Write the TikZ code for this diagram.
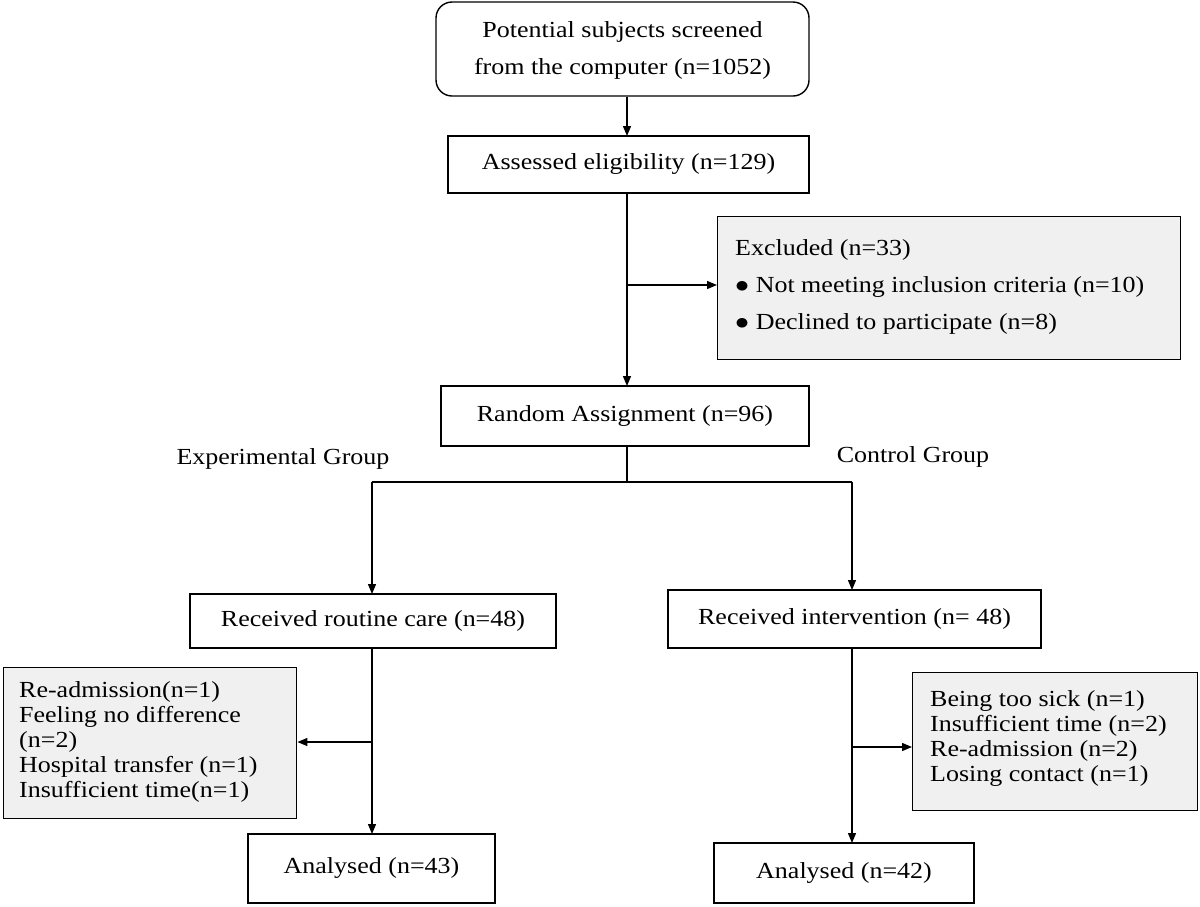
\documentclass[tikz,border=0pt]{standalone}
\usepackage{fontspec}
\setmainfont{Liberation Serif}
\usetikzlibrary{arrows.meta}
\newcommand{\sx}[2][25]{\scalebox{1.13}[1]{\fontsize{23}{#1}\selectfont\begin{tabular}{@{}l@{}}#2\end{tabular}}}
\begin{document}
\begin{tikzpicture}[x=1pt,y=-1pt,
  every node/.style={inner sep=0pt},
  box/.style={draw,line width=1.4pt,align=center},
  gbox/.style={draw,line width=1.4pt,fill=gray!12,anchor=north west},
  arr/.style={-{Triangle[length=10pt,width=8pt]},line width=1.3pt}]
\useasboundingbox (0,0) rectangle (1200,906);
\node[box,rounded corners=16pt,minimum width=373,minimum height=94] (top) at (622.5,49) {\sx[37]{\hfill Potential subjects screened\hfill\null\\from the computer (n=1052)}};
\node[box,minimum width=361,minimum height=57] (ass) at (628.5,164.5) {\sx{Assessed eligibility (n=129)}};
\node[gbox,minimum width=463,minimum height=143] (exc) at (717,216) {};
\node[anchor=west] (exct) at (735,285) {\sx[37]{Excluded (n=33)\\$\bullet$ Not meeting inclusion criteria (n=10)\\$\bullet$ Declined to participate (n=8)}};
\node[box,minimum width=368,minimum height=60] (ran) at (625,416) {\sx{Random Assignment (n=96)}};
\node (eg) at (283,459) {\sx{Experimental Group}};
\node (cg) at (913,457) {\sx{Control Group}};
\node[box,minimum width=366,minimum height=54] (rc) at (373,621) {\sx{Received routine care (n=48)}};
\node[box,minimum width=373,minimum height=58] (ri) at (854.5,619) {\sx{Received intervention (n= 48)}};
\node[gbox,minimum width=293,minimum height=151] (lg) at (3,667) {};
\node[anchor=west] (lgt) at (19,742) {\sx{Re-admission(n=1)\\Feeling no difference\\(n=2)\\Hospital transfer (n=1)\\Insufficient time(n=1)}};
\node[gbox,minimum width=285,minimum height=138] (rg) at (912,672) {};
\node[anchor=west] (rgt) at (930,739) {\sx{Being too sick (n=1)\\Insufficient time (n=2)\\Re-admission (n=2)\\Losing contact (n=1)}};
\node[box,minimum width=247,minimum height=69] (a43) at (371.5,868.5) {\sx{Analysed (n=43)}};
\node[box,minimum width=260,minimum height=60] (a42) at (844,873) {\sx{Analysed (n=42)}};
\coordinate (b1) at (627,285);
\coordinate (s) at (627,482);
\coordinate (sl) at (372,482);
\coordinate (sr) at (852,482);
\coordinate (b2) at (372,742);
\coordinate (b3) at (852,747);
\draw[arr] (top.south -| 627,0) -- (627,136);
\draw[arr] (ass.south -| 627,0) -- (627,386);
\draw[arr] (b1) -- (exc.west |- b1);
\draw[line width=1.3pt] (ran.south -| 627,0) -- (s);
\draw[line width=1.3pt] (sl) -- (sr);
\draw[arr] (sl) -- (372,594);
\draw[arr] (sr) -- (852,590);
\draw[arr] (rc.south -| 372,0) -- (372,834);
\draw[arr] (b2) -- (lg.east |- b2);
\draw[arr] (ri.south -| 852,0) -- (852,843);
\draw[arr] (b3) -- (rg.west |- b3);
\end{tikzpicture}
\end{document}
